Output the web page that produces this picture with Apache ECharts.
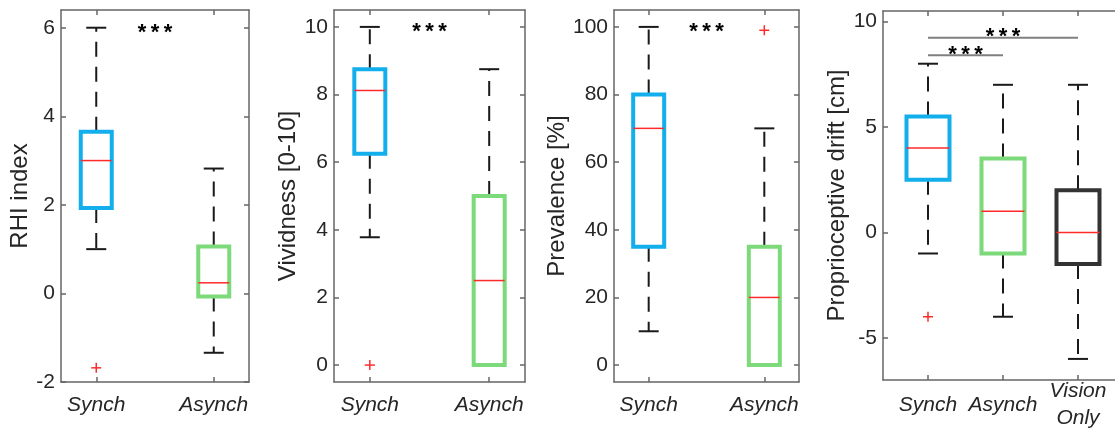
<!DOCTYPE html>
<html><head><meta charset="utf-8">
<script src="https://cdn.jsdelivr.net/npm/echarts@6/dist/echarts.min.js"></script>
<style>html,body{margin:0;padding:0;background:#fff}#c{width:1115px;height:429px}</style>
</head><body><div id="c"></div>
<script>
// ---- data ----
const catsTwo = ['Synch', 'Asynch'];
const catsThree = ['Synch', 'Asynch', 'Vision\nOnly'];
// box stats: [min, q1, median, q3, max]
const rhiSynch = [1.0, 1.93, 3.0, 3.65, 6.0];
const rhiAsynch = [-1.34, -0.07, 0.24, 1.06, 2.82];
const rhiOutliers = [[1, -1.68]];
const vivSynch = [3.78, 6.25, 8.12, 8.75, 10];
const vivAsynch = [0, 0, 2.5, 5.0, 8.75];
const vivOutliers = [[1, 0]];
const prevSynch = [10, 35, 70, 80, 100];
const prevAsynch = [0, 0, 20, 35, 70];
const prevOutliers = [[2, 99]];
const driftSynch = [-1, 2.5, 4, 5.5, 8];
const driftAsynch = [-4, -1, 1, 3.5, 7];
const driftVision = [-6, -1.5, 0, 2, 7];
const driftOutliers = [[1, -4]];
// tick labels
const rhiTicks = [-2, 0, 2, 4, 6];
const vivTicks = [0, 2, 4, 6, 8, 10];
const prevTicks = [0, 20, 40, 60, 80, 100];
const driftTicks = [-5, 0, 5, 10];
// significance markers [x, y] and bars [x1, x2, y]
const rhiStars = [[1.5, 6]];
const vivStars = [[1.5, 10]];
const prevStars = [[1.5, 100]];
const driftStars = [[2, 9.5], [1.5, 8.67]];
const driftBars = [[1, 3, 9.23], [1, 2, 8.4]];

// ---- styles ----
const FONT = '"Liberation Sans", Arial, sans-serif';
const BLUE = '#12afec', GREEN = '#7dda7b', DARK = '#333333', RED = '#ff2a2a';
const FRAME = '#666666', TXT = '#262626';

const panels = [
  {left: 61, top: 10, width: 188, height: 372, xmin: 0.7, xmax: 2.3, ymin: -2, ymax: 6.4,
   cats: catsTwo, boxes: [rhiSynch, rhiAsynch], colors: [BLUE, GREEN], outliers: rhiOutliers,
   ticks: rhiTicks, name: 'RHI index', nameGap: 23, stars: rhiStars, bars: [], boxW: 31, xMargin: 23},
  {left: 334, top: 10, width: 191, height: 372, xmin: 0.7, xmax: 2.3, ymin: -0.5, ymax: 10.5,
   cats: catsTwo, boxes: [vivSynch, vivAsynch], colors: [BLUE, GREEN], outliers: vivOutliers,
   ticks: vivTicks, name: 'Vividness [0-10]', nameGap: 26, stars: vivStars, bars: [], boxW: 31, xMargin: 23},
  {left: 614, top: 10, width: 185, height: 372, xmin: 0.7, xmax: 2.3, ymin: -5, ymax: 105,
   cats: catsTwo, boxes: [prevSynch, prevAsynch], colors: [BLUE, GREEN], outliers: prevOutliers,
   ticks: prevTicks, name: 'Prevalence [%]', nameGap: 37, stars: prevStars, bars: [], boxW: 31, xMargin: 23},
  {left: 883, top: 11, width: 240, height: 369, xmin: 0.4, xmax: 3.6, ymin: -7, ymax: 10.5,
   cats: catsThree, boxes: [driftSynch, driftAsynch, driftVision], colors: [BLUE, GREEN, DARK], outliers: driftOutliers,
   ticks: driftTicks, name: 'Proprioceptive drift [cm]', nameGap: 29, stars: driftStars, bars: driftBars, boxW: 43, xMargin: 25}
];

function boxRender(boxW, colors) {
  return function (params, api) {
    const x = api.value(0);
    const pMin = api.coord([x, api.value(1)]);
    const pQ1 = api.coord([x, api.value(2)]);
    const pMd = api.coord([x, api.value(3)]);
    const pQ3 = api.coord([x, api.value(4)]);
    const pMax = api.coord([x, api.value(5)]);
    const cx = pMax[0], h = boxW / 2, cap = 10;
    const col = colors[params.dataIndex];
    const dash = {stroke: '#1a1a1a', lineWidth: 2, lineDash: [15, 10]};
    const solid = {stroke: '#1a1a1a', lineWidth: 2};
    const ch = [];
    if (pMax[1] < pQ3[1]) ch.push({type: 'line', shape: {x1: cx, y1: pQ3[1], x2: cx, y2: pMax[1]}, style: dash});
    if (pMin[1] > pQ1[1]) ch.push({type: 'line', shape: {x1: cx, y1: pQ1[1], x2: cx, y2: pMin[1]}, style: dash});
    ch.push({type: 'line', shape: {x1: cx - cap, y1: pMax[1], x2: cx + cap, y2: pMax[1]}, style: solid});
    ch.push({type: 'line', shape: {x1: cx - cap, y1: pMin[1], x2: cx + cap, y2: pMin[1]}, style: solid});
    ch.push({type: 'rect', shape: {x: cx - h, y: pQ3[1], width: boxW, height: pQ1[1] - pQ3[1]},
      style: {fill: 'none', stroke: col, lineWidth: 4}});
    ch.push({type: 'line', shape: {x1: cx - h, y1: pMd[1], x2: cx + h, y2: pMd[1]}, style: {stroke: RED, lineWidth: 1.5}});
    return {type: 'group', children: ch};
  };
}
function outlierRender(params, api) {
  const p = api.coord([api.value(0), api.value(1)]);
  const s = 5;
  return {type: 'group', children: [
    {type: 'line', shape: {x1: p[0] - s, y1: p[1], x2: p[0] + s, y2: p[1]}, style: {stroke: RED, lineWidth: 1.5}},
    {type: 'line', shape: {x1: p[0], y1: p[1] - s, x2: p[0], y2: p[1] + s}, style: {stroke: RED, lineWidth: 1.5}}
  ]};
}
function starRender(params, api) {
  const p = api.coord([api.value(0), api.value(1)]);
  return {type: 'text', x: p[0], y: p[1] + 5,
    style: {text: '*\u2009*\u2009*', font: 'bold 22px ' + FONT, fill: '#000', align: 'center', verticalAlign: 'middle'}};
}
function barRender(params, api) {
  const a = api.coord([api.value(0), api.value(2)]);
  const b = api.coord([api.value(1), api.value(2)]);
  return {type: 'line', shape: {x1: a[0], y1: a[1], x2: b[0], y2: b[1]}, style: {stroke: '#808080', lineWidth: 2}};
}

const grid = [], xAxis = [], yAxis = [], series = [];
panels.forEach((P, i) => {
  grid.push({left: P.left, top: P.top, width: P.width, height: P.height, outerBoundsMode: 'none', containLabel: false});
  const xVals = P.cats.map((c, k) => k + 1);
  const line = {show: true, onZero: false, lineStyle: {color: FRAME, width: 1.5}};
  const tick = {show: true, inside: true, length: 5, lineStyle: {color: FRAME, width: 1.5}};
  xAxis.push({gridIndex: i, type: 'value', min: P.xmin, max: P.xmax, position: 'bottom',
    axisLine: line, splitLine: {show: false},
    axisTick: Object.assign({customValues: xVals}, tick),
    axisLabel: {customValues: xVals, formatter: v => P.cats[Math.round(v) - 1] || '',
      fontStyle: 'italic', fontSize: 21, fontFamily: FONT, color: TXT, margin: P.xMargin,
      verticalAlign: 'middle', lineHeight: 27}});
  xAxis.push({gridIndex: i, type: 'value', min: P.xmin, max: P.xmax, position: 'top',
    axisLine: line, splitLine: {show: false},
    axisTick: Object.assign({customValues: xVals}, tick), axisLabel: {show: false}});
  yAxis.push({gridIndex: i, type: 'value', min: P.ymin, max: P.ymax, position: 'left',
    axisLine: line, splitLine: {show: false},
    axisTick: Object.assign({customValues: P.ticks}, tick),
    axisLabel: {customValues: P.ticks, fontSize: 21, fontFamily: FONT, color: TXT, margin: 6},
    name: P.name, nameLocation: 'middle', nameGap: P.nameGap, nameRotate: 90,
    nameTextStyle: {fontSize: 24, fontFamily: FONT, color: TXT}});
  yAxis.push({gridIndex: i, type: 'value', min: P.ymin, max: P.ymax, position: 'right',
    axisLine: line, splitLine: {show: false},
    axisTick: Object.assign({customValues: P.ticks}, tick), axisLabel: {show: false}});
  const xi = i * 2, yi = i * 2;
  series.push({type: 'custom', xAxisIndex: xi, yAxisIndex: yi, clip: false,
    renderItem: boxRender(P.boxW, P.colors),
    encode: {x: 0, y: [1, 2, 3, 4, 5]},
    data: P.boxes.map((b, k) => [k + 1].concat(b))});
  series.push({type: 'custom', xAxisIndex: xi, yAxisIndex: yi, clip: false,
    renderItem: outlierRender, encode: {x: 0, y: 1}, data: P.outliers});
  if (P.bars.length) series.push({type: 'custom', xAxisIndex: xi, yAxisIndex: yi, clip: false,
    renderItem: barRender, encode: {x: [0, 1], y: 2}, data: P.bars});
  series.push({type: 'custom', xAxisIndex: xi, yAxisIndex: yi, clip: false,
    renderItem: starRender, encode: {x: 0, y: 1}, data: P.stars});
});

const chart = echarts.init(document.getElementById('c'), null, {renderer: 'canvas'});
chart.setOption({animation: false, backgroundColor: '#fff', grid, xAxis, yAxis, series});
</script>
</body></html>
